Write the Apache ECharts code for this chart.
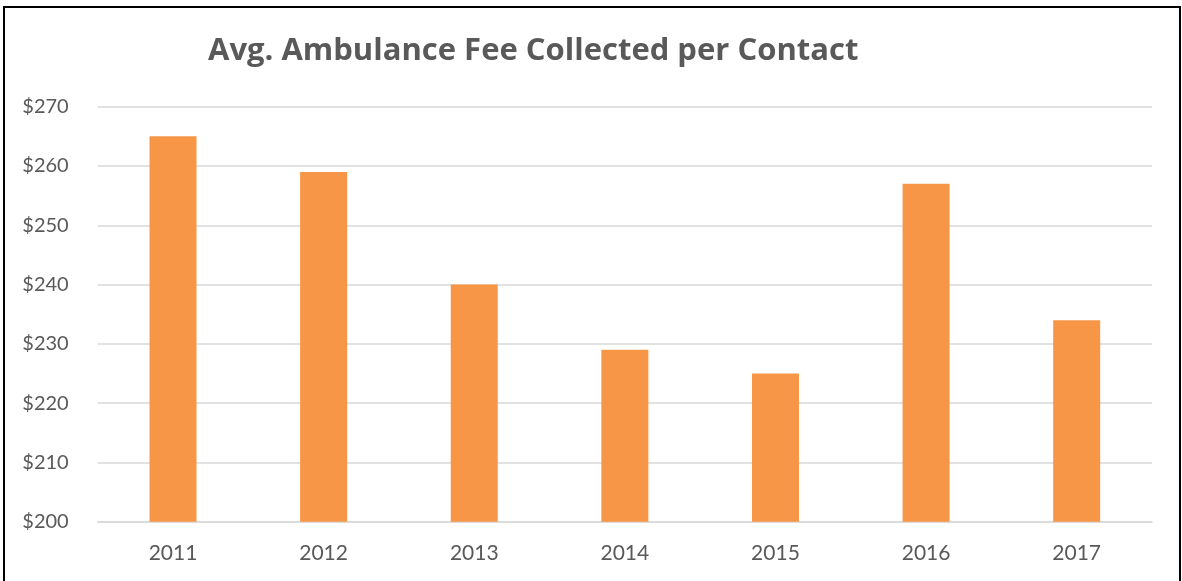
<!DOCTYPE html>
<html>
<head>
<meta charset="utf-8">
<script src="https://cdn.jsdelivr.net/npm/echarts@6/dist/echarts.min.js"></script>
<style>
html,body{margin:0;padding:0;background:#fff;}
#chart{width:1182px;height:581px;}
</style>
</head>
<body>
<div id="chart"></div>
<script>
var titleText = 'Avg. Ambulance Fee Collected per Contact';
var categories = ['2011','2012','2013','2014','2015','2016','2017'];
var values = [265, 259, 240, 229, 225, 257, 234];
var yMin = 200, yMax = 270, yStep = 10;

var chart = echarts.init(document.getElementById('chart'), null, {renderer:'canvas'});
chart.setOption({
  animation: false,
  backgroundColor: '#ffffff',
  title: {
    text: titleText,
    left: 203, top: 31,
    textStyle: {fontFamily: 'Open Sans', fontWeight: 'bold', fontSize: 31, color: '#595959'}
  },
  graphic: [{
    type: 'rect', silent: true,
    shape: {x: 4, y: 7, width: 1176, height: 600},
    style: {fill: 'none', stroke: '#000', lineWidth: 2}
  }],
  grid: {left: 97.7, right: 30, top: 106.7, bottom: 59.3, containLabel: false},
  xAxis: {
    type: 'category', data: categories,
    axisLine: {show: true, lineStyle: {color: '#d9d9d9', width: 1.5}},
    axisTick: {show: false},
    axisLabel: {fontFamily: 'Lato', fontSize: 21, color: '#595959', margin: 21}
  },
  yAxis: {
    type: 'value', min: yMin, max: yMax, interval: yStep,
    axisLine: {show: false}, axisTick: {show: false},
    splitLine: {lineStyle: {color: '#d9d9d9', width: 1.5}},
    axisLabel: {fontFamily: 'Lato', fontSize: 20, color: '#595959', margin: 29,
      formatter: function(v){return '$' + v;}}
  },
  series: [{
    type: 'bar', data: values, barWidth: 47,
    itemStyle: {color: '#F79646'}
  }]
});
</script>
</body>
</html>
